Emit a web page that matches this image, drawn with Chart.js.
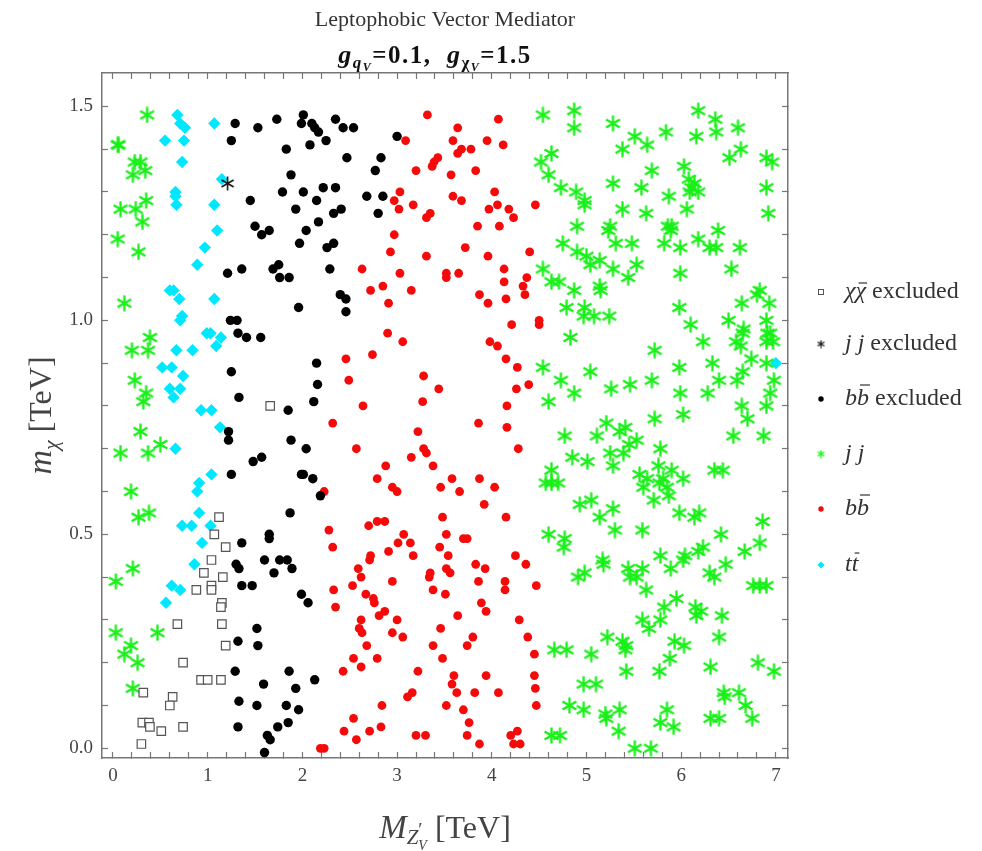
<!DOCTYPE html>
<html>
<head>
<meta charset="utf-8">
<title>Leptophobic Vector Mediator</title>
<script src="https://cdn.jsdelivr.net/npm/chart.js@4.4.0/dist/chart.umd.min.js"></script>
<style>
  body { margin: 0; background: #fff; }
  canvas { display: block; }
</style>
</head>
<body>
<canvas id="scanChart" width="982" height="851"></canvas>
<script>
// points are [M_Z'V, m_chi] in TeV
var chiExcluded = [[1.66,0.80],[1.12,0.54],[1.07,0.50],[1.19,0.47],[1.04,0.44],[0.96,0.41],[1.16,0.40],[0.88,0.37],[1.04,0.38],[1.04,0.37],[1.15,0.34],[1.14,0.33],[0.68,0.29],[1.15,0.29],[1.19,0.24],[0.74,0.20],[0.93,0.16],[1.00,0.16],[1.14,0.16],[0.32,0.13],[0.63,0.12],[0.60,0.10],[0.31,0.06],[0.38,0.06],[0.39,0.05],[0.51,0.04],[0.74,0.05],[0.30,0.01]];

var jjExcluded = [[1.21,1.32]];

var bbExcluded = [[1.29,1.46],[1.53,1.45],[1.73,1.47],[2.01,1.48],[1.99,1.46],[2.10,1.46],[2.13,1.45],[2.17,1.44],[2.25,1.42],[2.35,1.47],[1.25,1.42],[1.83,1.40],[2.08,1.41],[1.88,1.34],[1.79,1.30],[2.01,1.30],[2.15,1.28],[2.22,1.31],[2.35,1.31],[1.93,1.26],[1.45,1.28],[2.33,1.25],[1.50,1.22],[1.65,1.21],[1.57,1.20],[2.04,1.21],[2.17,1.23],[1.97,1.18],[2.33,1.18],[2.26,1.17],[2.29,1.12],[1.21,1.11],[1.36,1.12],[1.69,1.12],[1.75,1.13],[1.76,1.10],[1.86,1.10],[2.40,1.06],[1.96,1.03],
  [2.43,1.45],[2.54,1.45],[3.00,1.43],[2.47,1.38],[2.83,1.38],[2.77,1.35],[2.68,1.29],[2.85,1.29],[2.41,1.26],[2.80,1.25],[2.46,1.05],[2.46,1.02],
  [1.24,1.00],[1.31,1.00],[1.32,0.97],[1.41,0.96],[1.56,0.96],[2.15,0.90],[1.25,0.88],[2.16,0.85],[1.33,0.82],[2.12,0.81],[1.85,0.79],[1.22,0.74],[1.22,0.72],[1.88,0.72],[2.04,0.70],[1.48,0.67],[1.57,0.68],[1.25,0.64],[1.99,0.64],[2.01,0.64],[2.11,0.63],[2.19,0.59],[1.87,0.55],[1.65,0.50],[1.65,0.49],
  [1.36,0.48],[1.60,0.44],[1.76,0.44],[1.84,0.44],[1.89,0.42],[1.30,0.43],[1.33,0.42],[1.70,0.41],[1.36,0.38],[1.47,0.38],[1.99,0.36],[2.06,0.34],[1.52,0.28],[1.32,0.25],[1.53,0.24],[1.29,0.18],[1.86,0.18],[2.13,0.16],[1.59,0.15],[1.93,0.14],[1.33,0.11],[1.52,0.10],[1.83,0.10],[1.96,0.09],[1.32,0.05],[1.74,0.05],[1.85,0.06],[1.63,0.03],[1.66,0.02],[1.60,-0.01]];

var jjAllowed = [[0.36,1.48],[0.05,1.41],[0.06,1.41],[0.23,1.37],[0.29,1.37],[0.21,1.34],[0.34,1.35],[0.08,1.26],[0.24,1.26],[0.35,1.28],[0.31,1.23],[0.05,1.19],[0.27,1.16],[0.12,1.04],
  [0.39,0.96],[0.20,0.93],[0.37,0.93],[0.23,0.86],[0.35,0.83],[0.32,0.81],[0.29,0.74],[0.50,0.71],[0.08,0.69],[0.37,0.69],[0.19,0.60],[0.38,0.55],[0.27,0.54],
  [0.21,0.42],[0.03,0.39],[0.03,0.27],[0.47,0.27],[0.19,0.24],[0.12,0.22],[0.26,0.20],[0.21,0.14],
  [4.54,1.48],[4.63,1.39],[4.52,1.37],[4.60,1.34],[4.73,1.31],[4.75,1.18],[4.54,1.12],[4.63,1.09],[4.71,1.09],
  [4.79,1.03],[4.83,0.96],[4.54,0.89],[4.73,0.86],[4.60,0.81],[4.77,0.73],[4.85,0.68],[4.63,0.65],[4.57,0.62],[4.63,0.62],[4.70,0.62],
  [4.60,0.50],[4.77,0.49],[4.76,0.47],[4.66,0.23],[4.79,0.23],[4.82,0.10],[4.63,0.03],[4.72,0.03],
  [4.87,1.49],[4.87,1.45],[5.28,1.46],[6.18,1.49],[6.36,1.47],[6.37,1.44],[6.60,1.45],[5.51,1.43],[5.84,1.44],[6.16,1.43],[5.38,1.40],[5.64,1.41],[6.51,1.38],[6.63,1.40],[6.90,1.38],[6.96,1.37],[6.03,1.36],[5.69,1.35],[5.28,1.32],[5.58,1.31],[6.08,1.33],[6.14,1.32],[6.11,1.31],[6.18,1.30],[6.09,1.30],[6.90,1.31],[4.89,1.30],[4.98,1.28],[4.98,1.27],[5.87,1.29],[5.38,1.26],[5.63,1.25],[6.06,1.26],[6.92,1.25],[4.90,1.22],[5.25,1.22],[5.23,1.21],[5.86,1.22],[5.89,1.21],[5.90,1.22],[6.39,1.21],[5.31,1.18],[5.48,1.18],[5.82,1.18],[5.99,1.17],[6.18,1.19],[6.30,1.17],[6.37,1.17],[6.62,1.17],[4.90,1.16],[5.00,1.15],[5.04,1.13],[5.14,1.14],[5.28,1.12],[5.53,1.13],[5.44,1.10],[5.99,1.11],[6.53,1.12],[5.14,1.08],[5.15,1.07],[4.87,1.07],[6.83,1.07],[6.80,1.06],
  [4.98,1.03],[4.97,1.01],[5.08,1.01],[5.24,1.01],[5.98,1.03],[6.64,1.04],[6.93,1.04],[6.10,0.99],[6.50,1.00],[6.66,0.98],[6.65,0.97],[6.58,0.95],[6.63,0.94],[6.90,1.00],[6.91,0.97],[6.94,0.97],[6.90,0.95],[6.97,0.95],[6.23,0.95],[5.72,0.93],[6.74,0.91],[6.90,0.90],[6.33,0.90],[5.98,0.89],[5.04,0.88],[6.40,0.86],[6.65,0.88],[6.59,0.86],[6.98,0.86],[5.69,0.86],[5.46,0.85],[5.26,0.84],[4.87,0.83],[5.99,0.83],[6.28,0.83],[6.94,0.83],[6.64,0.80],[6.90,0.80],[6.02,0.78],[6.70,0.77],[5.72,0.77],[5.21,0.76],[5.41,0.75],[5.35,0.74],[5.11,0.73],[6.55,0.73],[6.87,0.73],[5.53,0.72],[5.45,0.71],[5.78,0.70],[5.01,0.67],[5.25,0.69],[5.39,0.69],[5.28,0.66],[5.76,0.66],[5.90,0.65],[5.56,0.64],[5.64,0.63],[5.81,0.63],[5.77,0.62],[5.85,0.61],[5.87,0.59],[6.02,0.63],[6.35,0.65],[6.44,0.65],[5.60,0.61],[5.71,0.58],[4.93,0.57],[5.05,0.58],[5.28,0.56],[5.14,0.54],[5.98,0.55],[6.14,0.54],[6.19,0.55],[6.86,0.53],
  [5.30,0.51],[5.59,0.51],[6.42,0.50],[6.83,0.48],[6.23,0.47],[6.18,0.46],[6.67,0.46],[5.78,0.45],[6.04,0.45],[6.02,0.44],[5.17,0.44],[5.18,0.43],[6.47,0.43],[5.44,0.42],[5.59,0.42],[5.89,0.42],[4.91,0.40],[4.98,0.41],[5.46,0.40],[5.53,0.40],[6.30,0.41],[6.35,0.40],[5.63,0.37],[6.76,0.38],[6.83,0.38],[6.90,0.38],[5.95,0.35],[5.82,0.33],[6.15,0.33],[6.21,0.32],[6.16,0.31],[6.43,0.31],[5.59,0.30],[5.66,0.28],[5.78,0.30],[5.22,0.26],[5.38,0.25],[5.42,0.24],[5.41,0.23],[5.93,0.25],[6.03,0.24],[6.40,0.26],[5.05,0.22],[5.88,0.21],[5.42,0.18],[5.77,0.18],[6.31,0.19],[6.81,0.20],[6.98,0.18],[4.97,0.15],[5.10,0.15],[6.45,0.13],[6.46,0.12],[6.61,0.13],[4.97,0.09],[5.20,0.08],[5.21,0.07],[5.35,0.09],[5.85,0.09],[6.68,0.10],[6.75,0.07],[5.78,0.06],[5.92,0.05],[6.31,0.07],[6.40,0.07],[5.34,0.04],[5.51,0.00],[5.68,0.00]];

var bbAllowed = [[3.32,1.48],[4.07,1.47],[3.64,1.45],[3.09,1.42],[3.59,1.42],[3.95,1.42],[4.12,1.41],[3.78,1.40],[3.68,1.40],[3.64,1.39],[3.43,1.38],[3.39,1.37],[3.37,1.36],[3.20,1.35],[3.57,1.34],[3.83,1.35],[3.03,1.30],[2.97,1.28],[3.02,1.26],[3.17,1.27],[3.59,1.29],[3.68,1.28],[4.03,1.30],[3.97,1.26],[4.06,1.27],[4.18,1.26],[4.23,1.24],[4.46,1.27],[3.35,1.25],[3.31,1.24],[4.08,1.22],[3.85,1.22],[2.97,1.20],[3.72,1.17],[2.93,1.16],[3.31,1.15],[3.96,1.15],[4.40,1.16],[2.63,1.12],[3.03,1.11],[3.52,1.11],[3.52,1.10],[3.65,1.11],[4.13,1.12],[4.37,1.10],[4.33,1.08],[4.35,1.06],[4.13,1.09],[2.85,1.08],[2.72,1.07],[3.15,1.07],[3.87,1.06],[2.91,1.04],[3.96,1.04],[4.15,1.05],
  [4.50,1.00],[4.50,0.99],[4.21,0.99],[2.90,0.97],[3.06,0.95],[3.98,0.95],[4.06,0.94],[2.46,0.91],[2.74,0.92],[4.15,0.91],[4.27,0.89],[3.28,0.87],[2.49,0.86],[3.44,0.84],[4.26,0.84],[4.39,0.85],[3.27,0.81],[2.64,0.80],[4.16,0.80],[3.86,0.76],[4.16,0.75],[3.22,0.74],[2.57,0.70],[3.28,0.70],[3.31,0.69],[3.15,0.68],[3.38,0.66],[4.28,0.70],[2.88,0.66],[2.79,0.63],[2.95,0.61],[3.00,0.60],[3.46,0.61],[3.58,0.63],[3.66,0.60],[3.87,0.63],[4.03,0.61],[3.92,0.57],[3.48,0.54],[4.15,0.54],[2.70,0.52],[2.79,0.53],[2.87,0.53],
  [2.32,0.76],[2.23,0.60],[2.28,0.51],[2.32,0.47],[2.33,0.37],[2.35,0.33],[2.19,0.00],[2.23,0.00],
  [3.07,0.50],[3.52,0.50],[3.70,0.49],[3.74,0.49],[3.01,0.48],[3.14,0.48],[2.91,0.46],[3.45,0.47],[3.17,0.45],[3.54,0.45],[2.72,0.45],[2.71,0.44],[4.25,0.45],[4.36,0.43],[2.59,0.42],[3.83,0.43],[3.93,0.42],[3.35,0.41],[3.34,0.40],[3.52,0.42],[3.56,0.41],[2.62,0.40],[3.86,0.39],[2.95,0.39],[2.53,0.38],[4.14,0.39],[4.14,0.37],[4.47,0.38],[3.38,0.37],[3.51,0.36],[2.67,0.36],[2.75,0.35],[2.76,0.34],[3.89,0.34],[3.94,0.32],[2.87,0.32],[2.81,0.31],[3.64,0.31],[2.62,0.30],[3.00,0.30],[4.29,0.30],[2.60,0.28],[2.63,0.27],[3.46,0.28],[2.95,0.27],[3.06,0.26],[3.80,0.26],[4.38,0.26],[2.68,0.24],[3.38,0.24],[3.74,0.24],[4.45,0.22],[2.54,0.21],[2.62,0.19],[2.79,0.21],[3.48,0.21],[2.43,0.18],[3.22,0.18],[3.60,0.17],[3.58,0.15],[3.63,0.13],[3.94,0.17],[4.45,0.17],[4.46,0.14],[3.82,0.13],[4.07,0.13],[3.16,0.13],[3.11,0.12],[2.84,0.10],[3.52,0.10],[3.70,0.09],[4.47,0.10],[2.54,0.07],[2.83,0.05],[3.76,0.06],[2.44,0.04],[2.71,0.04],[2.57,0.02],[3.20,0.03],[3.30,0.03],[3.74,0.03],[3.87,0.01],[4.20,0.03],[4.27,0.04],[4.23,0.01],[4.30,0.01]];

var ttAllowed = [[0.68,1.48],[0.71,1.46],[0.76,1.45],[1.07,1.46],[0.55,1.42],[0.75,1.42],[0.73,1.37],[1.15,1.33],[0.66,1.30],[0.66,1.29],[0.67,1.27],[1.07,1.27],[1.10,1.21],[0.97,1.17],[0.89,1.13],[0.60,1.07],[0.64,1.07],[0.70,1.05],[1.07,1.05],
  [0.73,1.01],[0.71,1.00],[0.99,0.97],[1.03,0.97],[1.14,0.96],[1.09,0.94],[0.67,0.93],[0.84,0.93],[0.52,0.89],[0.62,0.89],[0.74,0.87],[0.60,0.84],[0.71,0.84],[0.64,0.82],[0.93,0.79],[1.04,0.79],[1.13,0.75],[0.66,0.70],[1.04,0.64],[0.91,0.62],[0.89,0.60],[0.91,0.55],[0.73,0.52],[0.83,0.52],[1.03,0.52],
  [0.94,0.48],[0.86,0.43],[0.62,0.38],[0.71,0.37],[0.56,0.34],[7.00,0.90]];

var xTickLabels = ['0', '1', '2', '3', '4', '5', '6', '7'];
var yTickLabels = ['0.0', '0.5', '1.0', '1.5'];

var SERIF = "'Liberation Serif', 'DejaVu Serif', serif";
var GREEN = 'rgb(24,240,24)';
var RED = '#f50a0a';
var CYAN = '#00e8ff';

function toXY(list) {
    return list.map(function (p) { return {x: p[0], y: p[1]}; });
}

// six-armed asterisk, like the Mathematica star marker
function makeStar(size, color, lw) {
    var c = document.createElement('canvas');
    c.width = size; c.height = size;
    var g = c.getContext('2d');
    var r = size / 2 - 0.5, m = size / 2;
    g.strokeStyle = color;
    g.lineWidth = lw;
    for (var k = 0; k < 3; k++) {
        var a = Math.PI / 2 + k * Math.PI / 3;
        g.beginPath();
        g.moveTo(m - r * Math.cos(a), m - r * Math.sin(a));
        g.lineTo(m + r * Math.cos(a), m + r * Math.sin(a));
        g.stroke();
    }
    return c;
}
var greenStar = makeStar(17, GREEN, 2.3);
var blackStar = makeStar(15, '#111', 1.6);
var greenStarSmall = makeStar(9, GREEN, 1.4);
var blackStarSmall = makeStar(9, '#111', 1.2);

// text with sub/superscripts and overbars
function drawRuns(ctx, runs, x, y, align, color, spacing) {
    ctx.letterSpacing = spacing || '0px';
    var w = 0;
    runs.forEach(function (r) {
        ctx.font = r.f;
        r.w = ctx.measureText(r.t).width;
        if (r.adv !== false) w += r.w;
    });
    var cx = align === 'center' ? x - w / 2 : x;
    ctx.fillStyle = color;
    ctx.strokeStyle = color;
    ctx.textBaseline = 'alphabetic';
    ctx.textAlign = 'left';
    runs.forEach(function (r) {
        ctx.font = r.f;
        ctx.fillText(r.t, cx, y + (r.dy || 0));
        if (r.bar) {
            var lw = ctx.measureText(r.t.slice(-1)).width;
            ctx.lineWidth = 1.2;
            ctx.beginPath();
            ctx.moveTo(cx + r.w - lw + 3, y - r.bar);
            ctx.lineTo(cx + r.w + 1, y - r.bar);
            ctx.stroke();
        }
        if (r.adv !== false) cx += r.w;
    });
    ctx.letterSpacing = '0px';
}

function f(style, size) { return style + ' ' + size + 'px ' + SERIF; }

var legendItems = [
    {runs: [{t: 'χχ', f: f('italic', 24), bar: 15}, {t: ' excluded', f: f('', 24)}], mark: 'square'},
    {runs: [{t: 'j j', f: f('italic', 24)}, {t: ' excluded', f: f('', 24)}], mark: 'blackStar'},
    {runs: [{t: 'bb', f: f('italic', 24), bar: 20}, {t: ' excluded', f: f('', 24)}], mark: 'dot'},
    {runs: [{t: 'j j', f: f('italic', 24)}], mark: 'greenStar'},
    {runs: [{t: 'bb', f: f('italic', 24), bar: 20}], mark: 'red'},
    {runs: [{t: 'tt', f: f('italic', 24), bar: 18}], mark: 'cyan'}
];
var legendRows = [292, 344, 399, 454, 509, 565];

function drawMark(ctx, mark, x, y) {
    if (mark === 'square') {
        ctx.strokeStyle = '#555'; ctx.lineWidth = 1;
        ctx.strokeRect(x - 2.5, y - 2.5, 5, 5);
    } else if (mark === 'blackStar') {
        ctx.drawImage(blackStarSmall, x - 4.5, y - 4.5);
    } else if (mark === 'greenStar') {
        ctx.drawImage(greenStarSmall, x - 4.5, y - 4.5);
    } else if (mark === 'dot' || mark === 'red') {
        ctx.fillStyle = mark === 'dot' ? '#000' : RED;
        ctx.beginPath(); ctx.arc(x, y, 2.7, 0, 2 * Math.PI); ctx.fill();
    } else if (mark === 'cyan') {
        ctx.fillStyle = CYAN;
        ctx.beginPath();
        ctx.moveTo(x - 3.6, y); ctx.lineTo(x, y - 3.6); ctx.lineTo(x + 3.6, y); ctx.lineTo(x, y + 3.6);
        ctx.closePath(); ctx.fill();
    }
}

var textPlugin = {
    id: 'texts',
    afterDraw: function (chart) {
        var ctx = chart.ctx, a = chart.chartArea;
        var mid = (a.left + a.right) / 2;
        ctx.save();
        ctx.textAlign = 'center';
        ctx.fillStyle = '#333';
        ctx.font = f('', 22);
        ctx.fillText('Leptophobic Vector Mediator', mid, 26);

        drawRuns(ctx, [
            {t: 'g', f: f('bold italic', 26)},
            {t: 'q', f: f('bold italic', 17), dy: 5},
            {t: 'V', f: f('bold italic', 12), dy: 8},
            {t: '=0.1,  ', f: f('bold', 25)},
            {t: 'g', f: f('bold italic', 26)},
            {t: 'χ', f: f('bold', 17), dy: 5},
            {t: 'V', f: f('bold italic', 12), dy: 8},
            {t: '=1.5', f: f('bold', 25)}
        ], mid - 10, 63, 'center', '#111', '1.5px');

        drawRuns(ctx, [
            {t: 'M', f: f('italic', 33)},
            {t: 'Z', f: f('italic', 21), dy: 6},
            {t: '′', f: f('', 19), dy: -2, adv: false},
            {t: 'V', f: f('italic', 14), dy: 12},
            {t: ' [TeV]', f: f('', 32)}
        ], mid, 838, 'center', '#444');

        ctx.translate(51, (a.top + a.bottom) / 2);
        ctx.rotate(-Math.PI / 2);
        drawRuns(ctx, [
            {t: 'm', f: f('italic', 34)},
            {t: 'χ', f: f('italic', 22), dy: 7},
            {t: ' [TeV]', f: f('', 32)}
        ], 0, 0, 'center', '#444');
        ctx.setTransform(1, 0, 0, 1, 0, 0);

        legendItems.forEach(function (item, i) {
            drawMark(ctx, item.mark, 821, legendRows[i]);
            drawRuns(ctx, item.runs, 845, legendRows[i] + 6, 'left', '#333');
        });
        ctx.restore();
    }
};

var axisBase = {
    type: 'linear',
    grid: {drawOnChartArea: false, drawTicks: true, tickLength: -6, color: '#777', tickWidth: 1.2},
    border: {display: true, color: '#777', width: 1.5}
};

function xScale(position, withLabels) {
    return Object.assign({}, axisBase, {
        position: position,
        min: -0.116, max: 7.128,
        ticks: {
            display: withLabels, stepSize: 0.2, includeBounds: false, autoSkip: false, maxRotation: 0,
            padding: 13, color: '#444', font: {family: SERIF, size: 19},
            callback: function (v) {
                var s = String(Math.round(v * 10) / 10);
                return xTickLabels.indexOf(s) >= 0 ? s : '';
            }
        },
        afterFit: function (s) { s.height = withLabels ? 40 : 0; }
    });
}

function yScale(position, withLabels) {
    return Object.assign({}, axisBase, {
        position: position,
        min: -0.0227, max: 1.578,
        ticks: {
            display: withLabels, stepSize: 0.1, includeBounds: false, autoSkip: false,
            padding: 15, color: '#444', font: {family: SERIF, size: 19},
            callback: function (v) {
                var s = (Math.round(v * 10) / 10).toFixed(1);
                return yTickLabels.indexOf(s) >= 0 ? s : '';
            }
        },
        afterFit: function (s) { s.width = withLabels ? 45 : 0; }
    });
}

new Chart(document.getElementById('scanChart'), {
    type: 'scatter',
    data: {
        datasets: [
            {label: 'jj excluded', data: toXY(jjExcluded), pointStyle: blackStar},
            {label: 'χχ̄ excluded', data: toXY(chiExcluded), pointStyle: 'rect', pointRadius: 6,
             borderColor: '#555', borderWidth: 1.2, backgroundColor: '#fff'},
            {label: 'bb̄ excluded', data: toXY(bbExcluded), pointStyle: 'circle', pointRadius: 4.7,
             backgroundColor: '#000', borderWidth: 0},
            {label: 'jj', data: toXY(jjAllowed), pointStyle: greenStar},
            {label: 'bb̄', data: toXY(bbAllowed), pointStyle: 'circle', pointRadius: 4.4,
             backgroundColor: RED, borderWidth: 0},
            {label: 'tt̄', data: toXY(ttAllowed), pointStyle: 'rectRot', pointRadius: 6.2,
             backgroundColor: CYAN, borderWidth: 0}
        ]
    },
    options: {
        responsive: false,
        animation: false,
        events: [],
        layout: {padding: {top: 73, right: 194, bottom: 53, left: 57}},
        plugins: {legend: {display: false}, tooltip: {enabled: false}, title: {display: false}},
        scales: {
            x: xScale('bottom', true),
            x2: xScale('top', false),
            y: yScale('left', true),
            y2: yScale('right', false)
        }
    },
    plugins: [textPlugin]
});
</script>
</body>
</html>
